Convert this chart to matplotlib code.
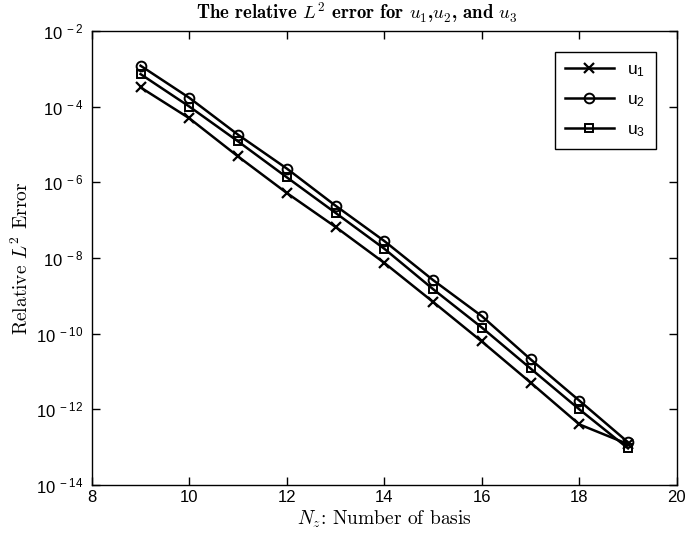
import numpy as np
import matplotlib
matplotlib.use("Agg")
import matplotlib.pyplot as plt
from matplotlib.ticker import FixedLocator, FuncFormatter, NullLocator

# data
nz = [9, 10, 11, 12, 13, 14, 15, 16, 17, 18, 19]
err_u1 = [3.2e-4, 4.9e-5, 4.8e-6, 5.2e-7, 6.6e-8, 7.4e-9, 6.9e-10, 6.2e-11, 5.1e-12, 4.0e-13, 1.2e-13]
err_u2 = [1.2e-3, 1.7e-4, 1.8e-5, 2.3e-6, 2.4e-7, 2.8e-8, 2.6e-9, 2.9e-10, 2.1e-11, 1.7e-12, 1.35e-13]
err_u3 = [7.2e-4, 1.0e-4, 1.2e-5, 1.35e-6, 1.55e-7, 1.75e-8, 1.5e-9, 1.45e-10, 1.2e-11, 1.0e-12, 9.3e-14]
labels = [r'u$_1$', r'u$_2$', r'u$_3$']
xticks = [8, 10, 12, 14, 16, 18, 20]
yexps = [-2, -4, -6, -8, -10, -12, -14]

# sans (Helvetica-like) math for ticks and legend, cm for title / labels
plt.rcParams['font.family'] = ['Liberation Sans', 'DejaVu Sans']
plt.rcParams['mathtext.fontset'] = 'custom'
plt.rcParams['mathtext.rm'] = 'Liberation Sans'
plt.rcParams['mathtext.it'] = 'Liberation Sans'

fig = plt.figure(figsize=(6.85, 5.41), dpi=100)
ax = fig.add_axes([0.134, 0.1035, 0.854, 0.8395])

ax.semilogy(nz, err_u1, '-x', color='k', lw=1.8, ms=7, mew=1.6, label=labels[0])
ax.semilogy(nz, err_u2, '-o', color='k', lw=1.8, ms=7, mew=1.4, mfc='none', label=labels[1])
ax.semilogy(nz, err_u3, '-s', color='k', lw=1.8, ms=6, mew=1.4, mfc='none', label=labels[2])

ax.set_xlim(8, 20)
ax.set_ylim(1e-14, 1e-2)
ax.xaxis.set_major_locator(FixedLocator(xticks))
ax.yaxis.set_major_locator(FixedLocator([10.0**e for e in yexps]))
ax.yaxis.set_minor_locator(NullLocator())
ax.yaxis.set_major_formatter(FuncFormatter(
    lambda v, p: r'10$^{\ %d}$' % int(round(np.log10(v)))))
ax.tick_params(direction='in', top=True, right=True, labelsize=12, length=6, width=1)
ax.tick_params(axis='y', pad=6)
for s in ax.spines.values():
    s.set_linewidth(1.0)

fig.text(0.521, 0.977, r'The relative $L^2$ error for $u_1$,$u_2$, and $u_3$',
         fontsize=13.5, family='cmb10', math_fontfamily='cm', ha='center', va='center')
ax.set_xlabel(r'$N_z$: Number of basis', fontsize=14, family='cmr10',
              math_fontfamily='cm', labelpad=3)
ax.set_ylabel(r'Relative $L^2$ Error', fontsize=14, family='cmr10',
              math_fontfamily='cm', labelpad=3)

leg = ax.legend(loc='upper right', fontsize=12.5, fancybox=False, edgecolor='k',
                framealpha=1, handlelength=2.8, labelspacing=0.75,
                borderaxespad=1.2, borderpad=0.6)
leg.get_frame().set_linewidth(1.0)

fig.savefig('out.png', dpi=100)
